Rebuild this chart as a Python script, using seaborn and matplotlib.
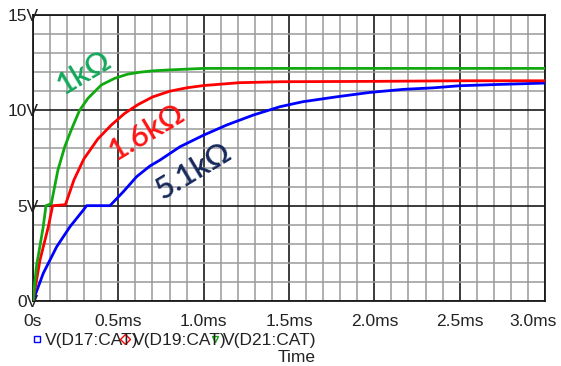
import matplotlib
matplotlib.use("Agg")
import matplotlib.pyplot as plt
import matplotlib.transforms as mtransforms
from matplotlib.ticker import MultipleLocator
import seaborn as sns
import pandas as pd

# ---- data (time in ms, voltage in V) ----
t_d21 = [0, 0.02, 0.06, 0.076, 0.107, 0.146, 0.186, 0.224, 0.273, 0.322, 0.4, 0.479, 0.556, 0.627, 0.7, 0.8, 1.0, 1.5, 2.0, 2.5, 3.0]
v_d21 = [0, 1.8, 3.9, 5.0, 5.1, 6.87, 8.09, 8.97, 10.0, 10.63, 11.33, 11.68, 11.9, 12.0, 12.07, 12.12, 12.2, 12.2, 12.2, 12.2, 12.2]

t_d19 = [0, 0.041, 0.09, 0.115, 0.19, 0.24, 0.298, 0.38, 0.459, 0.537, 0.615, 0.7, 0.8, 0.9, 1.0, 1.21, 1.45, 2.0, 2.5, 3.0]
v_d19 = [0, 2.15, 3.9, 5.0, 5.05, 6.35, 7.45, 8.5, 9.23, 9.84, 10.3, 10.7, 11.0, 11.18, 11.3, 11.45, 11.5, 11.52, 11.55, 11.55]

t_d17 = [0, 0.06, 0.139, 0.217, 0.295, 0.314, 0.451, 0.529, 0.607, 0.685, 0.744, 0.861, 1.0, 1.135, 1.29, 1.447, 1.58, 1.78, 1.974, 2.17, 2.345, 2.5, 2.736, 3.0]
v_d17 = [0, 1.45, 2.85, 3.9, 4.77, 5.0, 5.0, 5.73, 6.52, 7.08, 7.39, 8.09, 8.7, 9.23, 9.75, 10.19, 10.45, 10.71, 10.94, 11.1, 11.18, 11.29, 11.36, 11.43]

series_names = ["V(D17:CAT)", "V(D19:CAT)", "V(D21:CAT)"]
series_colors = ["#0000ff", "#ff0000", "#10aa10"]
x_ticks = [0, 0.5, 1.0, 1.5, 2.0, 2.5, 3.0]
x_tick_labels = ["0s", "0.5ms", "1.0ms", "1.5ms", "2.0ms", "2.5ms", "3.0ms"]
y_ticks = [0, 5, 10, 15]
y_tick_labels = ["0V", "5V", "10V", "15V"]
annotations = ["5.1kΩ", "1.6kΩ", "1kΩ"]
ann_pos = [(0.943, 6.82), (0.668, 8.86), (0.299, 12.0)]
ann_colors = ["#17295a", "#ff1414", "#12a85a"]

df = pd.concat([
    pd.DataFrame({"t": t_d17, "v": v_d17, "s": series_names[0]}),
    pd.DataFrame({"t": t_d19, "v": v_d19, "s": series_names[1]}),
    pd.DataFrame({"t": t_d21, "v": v_d21, "s": series_names[2]}),
], ignore_index=True)

sns.set_theme(style="white")
plt.rcParams["font.family"] = ["Liberation Sans", "DejaVu Sans"]

fig = plt.figure(figsize=(5.61, 3.66), dpi=100)
ax = fig.add_axes([33 / 561, 1 - 301 / 366, 512 / 561, 286 / 366])

sns.lineplot(data=df, x="t", y="v", hue="s", hue_order=series_names,
             palette=series_colors, estimator=None, sort=False,
             linewidth=2.0, legend=False, ax=ax, zorder=5)

ax.set_xlim(0, 3.0)
ax.set_ylim(0, 15)
ax.xaxis.set_minor_locator(MultipleLocator(0.1))
ax.yaxis.set_minor_locator(MultipleLocator(1))
ax.set_xticks(x_ticks)
ax.set_xticklabels(x_tick_labels)
ax.set_yticks(y_ticks)
ax.set_yticklabels(y_tick_labels)

ax.grid(which="minor", color="#9a9a9a", linewidth=1.1)
ax.grid(which="major", color="#1a1a1a", linewidth=1.2)
ax.set_axisbelow(True)
for sp in ax.spines.values():
    sp.set_color("#1a1a1a")
    sp.set_linewidth(1.3)

ax.tick_params(axis="x", which="major", direction="out", length=4, width=1.2,
               color="#1a1a1a", pad=5, labelsize=12.5, labelcolor="#222222")
ax.tick_params(axis="y", which="major", direction="out", length=0,
               pad=-4, labelsize=12.5, labelcolor="#222222")
ax.tick_params(which="minor", length=0)
ax.set_xlabel("")
ax.set_ylabel("")

# shift the last x tick label left so it stays inside the figure
last = ax.get_xticklabels()[-1]
last.set_transform(last.get_transform() +
                   mtransforms.ScaledTranslation(-12 / 100, 0, fig.dpi_scale_trans))

for txt, (x, y), c in zip(annotations, ann_pos, ann_colors):
    ax.text(x, y, txt, color=c, fontsize=22, rotation=31, ha="center",
            va="center", rotation_mode="anchor", fontweight="semibold",
            family=["Lato", "DejaVu Sans"], zorder=6)

# legend row (overlapping labels as in the original)
leg_y = 1 - 340 / 366
marker_x = [37, 125, 215]
markers = ["s", "D", "v"]
label_x = [45, 133, 223]
for mx, mk, c, lx, name in zip(marker_x, markers, series_colors, label_x, series_names):
    fig.add_artist(plt.Line2D([mx / 561], [leg_y + 0.003], marker=mk, markersize=5,
                              markerfacecolor="none", markeredgecolor=c,
                              markeredgewidth=1.0, transform=fig.transFigure))
    fig.text(lx / 561, leg_y, name, fontsize=12.5, color="#222222",
             ha="left", va="center")

fig.text(297 / 561, 1 - 358 / 366, "Time", fontsize=12.5, color="#222222",
         ha="center", va="center")

fig.savefig("out.png", dpi=100)
